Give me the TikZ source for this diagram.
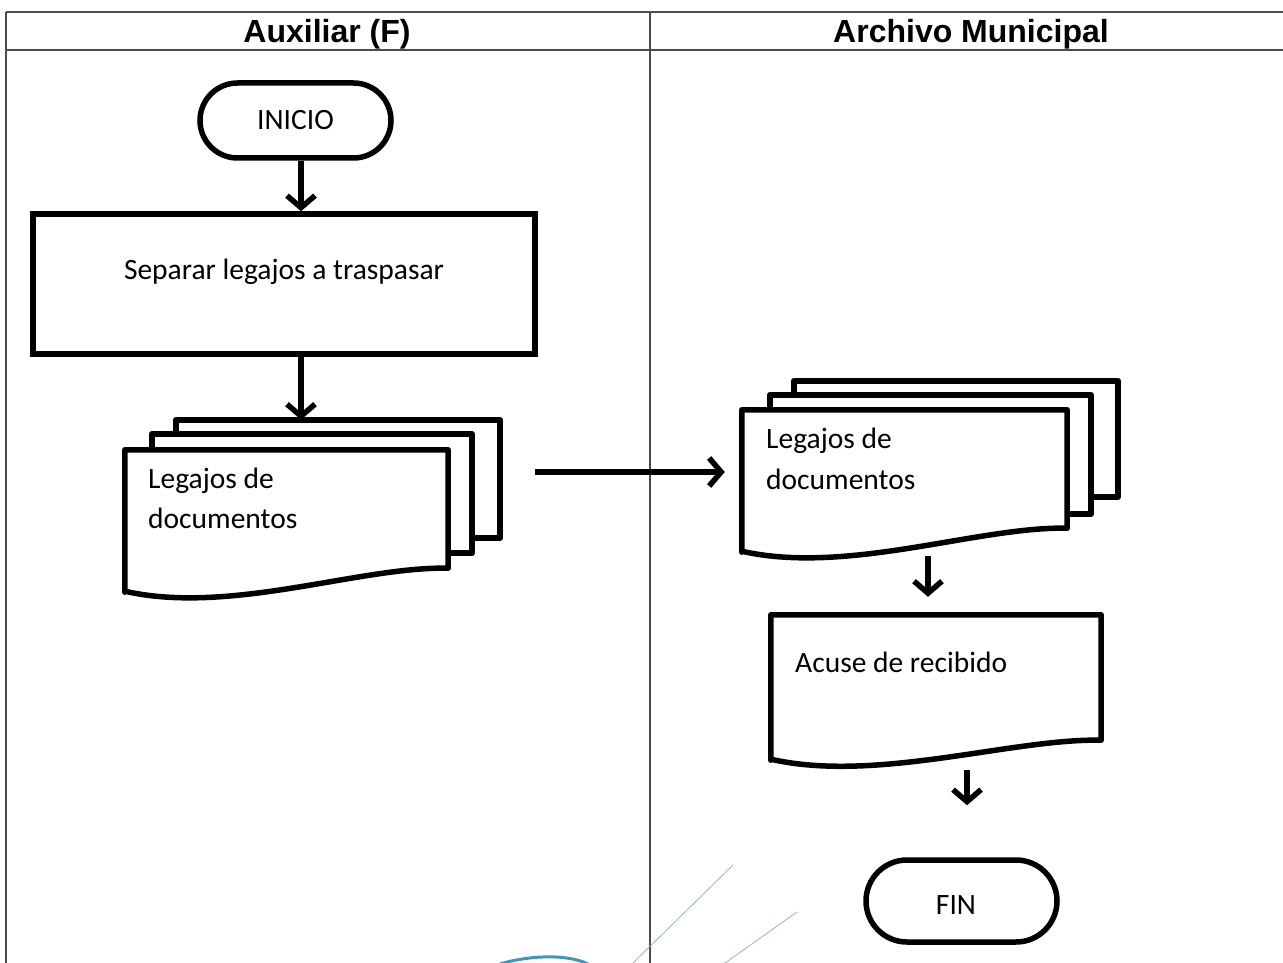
\documentclass[tikz,border=0pt]{standalone}
\usepackage{fontspec}
\setmainfont{Carlito}
\newfontfamily\headfont{Liberation Sans}
\usetikzlibrary{arrows.meta,shapes.misc,calc}

\tikzset{
  lane/.style={draw=black!70, line width=1.5pt},
  headtxt/.style={font=\headfont\bfseries\fontsize{32}{36}\selectfont, anchor=base, inner sep=0pt},
  body/.style={font=\fontsize{29.5}{36}\selectfont, inner sep=0pt},
  term/.style={draw, line width=5.5pt, rounded rectangle, minimum width=191pt, inner sep=0pt},
  procbox/.style={draw, line width=5.5pt, rectangle, inner sep=0pt},
  area/.style={rectangle, inner sep=0pt},
  sheet/.style={draw, fill=white, line width=5.5pt, line join=round},
  flow/.style={line width=5.5pt, -{Straight Barb[length=12pt,width=28pt]}},
  scanline/.style={draw={rgb,255:red,150;green,178;blue,196}, line width=0.8pt},
}

% outline of a document symbol inside the rectangle node #1
% (#2 = rise of the right end of the wavy bottom edge)
\newcommand{\docoutline}[2]{%
  \draw[sheet] (#1.south west) -- (#1.north west) -- (#1.north east)
    -- ([yshift=#2]#1.south east)
    .. controls ([xshift=-88pt,yshift=#2+2pt]#1.south east)
       and ([xshift=105pt,yshift=-23pt]#1.south west) .. ([yshift=1pt]#1.south west)
    -- cycle;}

\begin{document}
\begin{tikzpicture}[x=1pt,y=-1pt]
  \useasboundingbox (0,0) rectangle (1283,963);

  % swimlane table
  \coordinate (tl) at (6,12);
  \coordinate (tr) at (1283,12);
  \coordinate (hl) at (6,50);
  \coordinate (hr) at (1283,50);
  \coordinate (bl) at (6,963);
  \coordinate (mt) at (650,12);
  \coordinate (mb) at (650,963);
  \draw[lane] (tl) -- (tr);
  \draw[lane] (hl) -- (hr);
  \draw[lane] (tl) -- (bl);
  \draw[lane] (mt) -- (mb);
  \node[headtxt] (laneA) at (327,43) {Auxiliar (F)};
  \node[headtxt] (laneB) at (971,43) {Archivo Municipal};

  % faint marks at the foot of the sheet
  \draw[scanline] (633,963) -- (733,865);
  \draw[scanline] (725,963) -- (797,912);
  \draw[draw={rgb,255:red,60;green,150;blue,190}, line width=3pt]
    (500,964) .. controls (530,955) and (568,954) .. (588,964);

  % ---- Auxiliar (F) lane ----
  \node[term, minimum height=75pt] (inicio) at (295.5,120.5) {};
  \node[body, anchor=base] (inicioT) at (295.5,130) {INICIO};

  \node[procbox, minimum width=502pt, minimum height=140pt] (sep) at (284,284) {};
  \node[body, anchor=base] (sepT) at (284,279) {Separar legajos a traspasar};

  % stacked documents, left
  \node[area, minimum width=324pt, minimum height=118pt] (lback) at (338,479) {};
  \node[area, minimum width=320pt, minimum height=119pt] (lmid) at (312,493.5) {};
  \node[area, minimum width=323pt, minimum height=142pt] (ldoc) at (286.5,521) {};
  \draw[sheet] (lback.south west) rectangle (lback.north east);
  \draw[sheet] (lmid.south west) rectangle (lmid.north east);
  \docoutline{ldoc}{24pt}
  \node[body, anchor=base west] (ldocA) at (148,488) {Legajos de};
  \node[body, anchor=base west] (ldocB) at (148,528) {documentos};

  % ---- Archivo Municipal lane ----
  \node[area, minimum width=324pt, minimum height=116pt] (rback) at (956,439) {};
  \node[area, minimum width=321pt, minimum height=119pt] (rmid) at (930.5,454.5) {};
  \node[area, minimum width=325pt, minimum height=142pt] (rdoc) at (904.5,481) {};
  \draw[sheet] (rback.south west) rectangle (rback.north east);
  \draw[sheet] (rmid.south west) rectangle (rmid.north east);
  \docoutline{rdoc}{24pt}
  \node[body, anchor=base west] (rdocA) at (766,448) {Legajos de};
  \node[body, anchor=base west] (rdocB) at (766,489) {documentos};

  \node[area, minimum width=330pt, minimum height=145pt] (acuse) at (936,687.5) {};
  \docoutline{acuse}{20pt}
  \node[body, anchor=base west] (acuseT) at (795,672) {Acuse de recibido};

  \node[term, minimum height=82pt] (fin) at (961.5,901) {};
  \node[body, anchor=base] (finT) at (956,914) {FIN};

  % ---- flow connectors ----
  \draw[flow] ([xshift=5.5pt]inicio.south) -- ([xshift=5.5pt]inicio.south |- sep.north);
  \draw[flow] ([xshift=17pt]sep.south) -- ([xshift=17pt]sep.south |- lback.north);
  \coordinate (hs) at (535,472);
  \draw[flow] (hs) -- ([xshift=-17pt]hs -| rdoc.west);
  \coordinate (vs) at (928,556);
  \draw[flow] (vs) -- ([yshift=18pt]vs |- acuse.north);
  \coordinate (ws) at (967,770);
  \draw[flow] (ws) -- ([yshift=52pt]ws |- fin.north);
\end{tikzpicture}
\end{document}
